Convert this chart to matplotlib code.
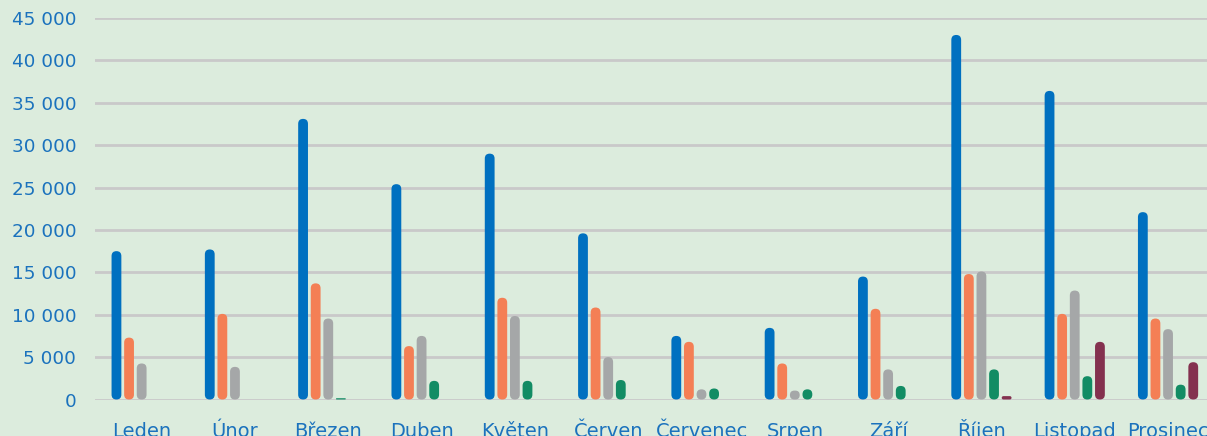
import matplotlib
matplotlib.use("Agg")
import matplotlib.pyplot as plt
from matplotlib.patches import FancyBboxPatch
from matplotlib.ticker import FuncFormatter
import numpy as np

months = ["Leden", "Únor", "Březen", "Duben", "Květen", "Červen",
          "Červenec", "Srpen", "Září", "Říjen", "Listopad", "Prosinec"]
series_blue = [17500, 17700, 33100, 25400, 29000, 19600, 7500, 8450, 14500, 43000, 36400, 22100]
series_orange = [7300, 10100, 13700, 6300, 12000, 10850, 6800, 4250, 10700, 14800, 10100, 9550]
series_gray = [4250, 3850, 9550, 7500, 9850, 5000, 1200, 1050, 3550, 15100, 12850, 8300]
series_green = [0, 0, 150, 2200, 2200, 2300, 1300, 1200, 1600, 3550, 2750, 1750]
series_maroon = [0, 0, 0, 0, 0, 0, 0, 0, 0, 400, 6800, 4400]
yticks = [0, 5000, 10000, 15000, 20000, 25000, 30000, 35000, 40000, 45000]

series = [series_blue, series_orange, series_gray, series_green, series_maroon]
colors = ["#0070c0", "#f47f55", "#a5a7a8", "#128c64", "#84314f"]

W, H = 1207, 436
fig = plt.figure(figsize=(W / 100, H / 100), dpi=100)
bg = "#dcecdd"
fig.patch.set_facecolor(bg)

left_px, right_px = 95.0, 1214.7
bottom_px, top_px = 399.5, 18.0
ax = fig.add_axes([left_px / W, (H - bottom_px) / H,
                   (right_px - left_px) / W, (bottom_px - top_px) / H])
ax.set_facecolor(bg)
ax.set_xlim(-0.5, 11.5)
ax.set_ylim(0, 45000)

# pixel conversions
x_per_px = 12.0 / (right_px - left_px)
y_per_px = 45000.0 / (bottom_px - top_px)
aspect = y_per_px / x_per_px

bar_w = 9.8 * x_per_px
step = 12.6 * x_per_px
radius = 4.9 * x_per_px

x = np.arange(len(months))
for k, (vals, col) in enumerate(zip(series, colors)):
    offs = (k - 2) * step
    bars = ax.bar(x + offs, vals, width=bar_w, color=col)
    for rect in bars:
        h = rect.get_height()
        rect.set_visible(False)
        if h <= 0:
            continue
        r = min(radius, (h / aspect) / 2.0)
        p = FancyBboxPatch((rect.get_x(), rect.get_y()), rect.get_width(), h,
                           boxstyle=f"round,pad=0,rounding_size={r}",
                           mutation_aspect=aspect, facecolor=col,
                           edgecolor="none", zorder=3)
        ax.add_patch(p)

ax.set_yticks(yticks)
ax.yaxis.set_major_formatter(FuncFormatter(lambda v, p: f"{int(v):,}".replace(",", " ")))
ax.set_xticks(x)
ax.set_xticklabels(months)
ax.grid(axis="y", color="#c9c9c9", linewidth=2.0, zorder=0)
ax.set_axisbelow(True)
for s in ax.spines.values():
    s.set_visible(False)
txt_col = "#1b72bd"
ax.tick_params(axis="y", length=0, pad=13.5, labelsize=13.2, labelcolor=txt_col)
ax.tick_params(axis="x", length=0, pad=27, labelsize=14, labelcolor=txt_col)
for lbl in ax.get_xticklabels():
    lbl.set_verticalalignment("baseline")

fig.savefig("out.png", dpi=100, facecolor=bg)
